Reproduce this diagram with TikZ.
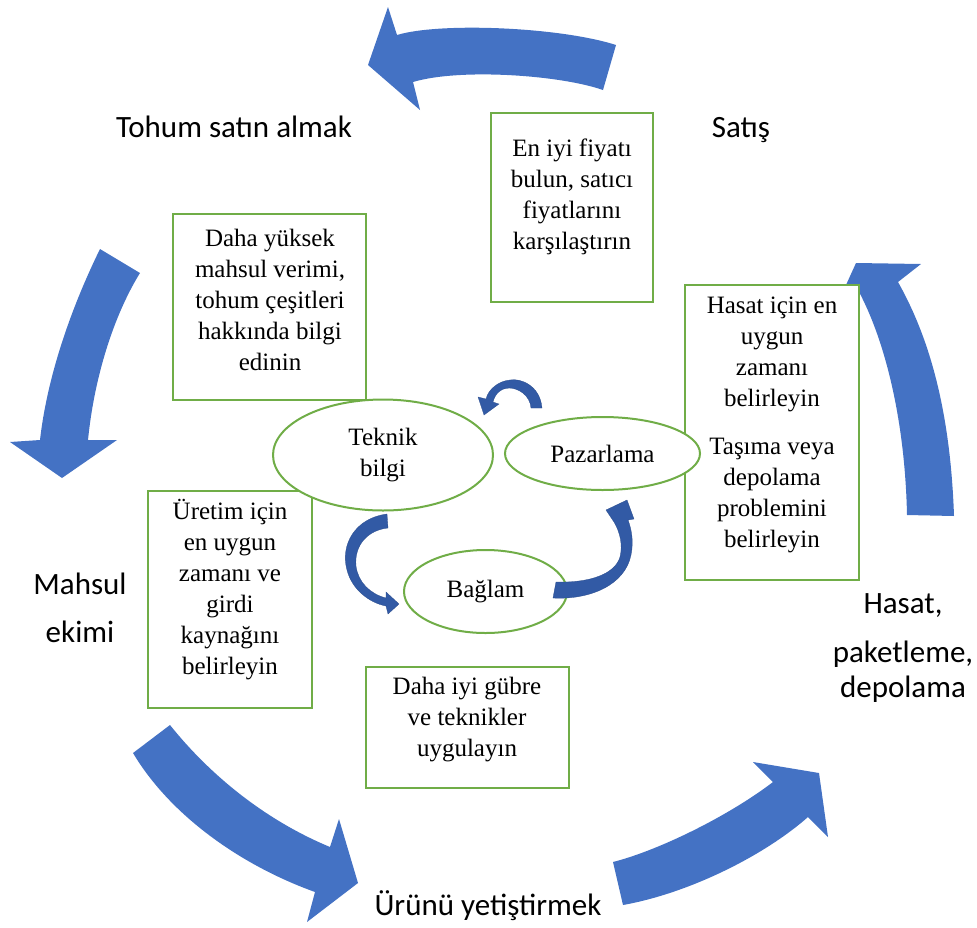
\documentclass[tikz,border=0pt]{standalone}
\usepackage{fontspec}
\setmainfont{Liberation Serif}
\newfontfamily\calfont{Carlito}
\usetikzlibrary{shapes.geometric}
\definecolor{bigblue}{RGB}{68,114,196}
\definecolor{boxgreen}{RGB}{112,173,71}
\definecolor{smallblue}{RGB}{50,90,165}
\begin{document}
\begin{tikzpicture}[x=1pt,y=-1pt,
 bigarrow/.style={fill=bigblue},
 smallarrow/.style={fill=smallblue, draw=smallblue!85!black, line width=0.3pt},
 infobox/.style={draw=boxgreen, line width=2.5pt, fill=white, rectangle, inner sep=0pt},
 topic/.style={draw=boxgreen, line width=2pt, fill=white, ellipse, inner sep=0pt, font=\fontsize{25}{31}\selectfont, align=center},
 boxtext/.style={font=\fontsize{25}{31}\selectfont, align=center, inner sep=0pt},
 stage/.style={font=\calfont\fontsize{31}{37}\selectfont, align=center, inner sep=0pt}]
\useasboundingbox (0,0) rectangle (977,927);

% big cycle arrows
\fill[bigarrow] (616,45) .. controls (560,27) and (440,22) .. (397,35) -- (388,7) -- (368,65) -- (420,110) -- (413,82) .. controls (460,68) and (560,75) .. (603,90) -- cycle;
\fill[bigarrow] (100,249) .. controls (75,300) and (48,370) .. (40,440) -- (10,442) -- (62,478) -- (117,440) -- (88,440) .. controls (95,370) and (117,310) .. (140,273) -- cycle;
\fill[bigarrow] (170,725) .. controls (210,775) and (265,820) .. (330,847) -- (339,819) -- (358,883) -- (307,922) -- (315,892) .. controls (240,865) and (170,815) .. (133,753) -- cycle;
\fill[bigarrow] (613,862) .. controls (660,850) and (730,815) .. (773,782) -- (753,762) -- (819,773) -- (828,837) -- (808,817) .. controls (765,855) and (690,893) .. (623,905) -- cycle;
\fill[bigarrow] (856,263) -- (921,264) -- (898,282) .. controls (925,330) and (950,400) .. (954,516) -- (907,515) .. controls (905,420) and (885,340) .. (858,290) -- (846,285) -- cycle;

% boxes
\node[infobox, minimum width=193pt, minimum height=186pt] (boxA) at (269.5,307) {};
\node[infobox, minimum width=162pt, minimum height=189pt] (boxB) at (572,207.5) {};
\node[infobox, minimum width=174pt, minimum height=295pt] (boxC) at (772,432.5) {};
\node[infobox, minimum width=164pt, minimum height=217pt] (boxD) at (230,599.5) {};
\node[infobox, minimum width=203pt, minimum height=121pt] (boxE) at (467.5,727.5) {};

\node[boxtext] (tA) at (270,300) {Daha yüksek\\mahsul verimi,\\tohum çeşitleri\\hakkında bilgi\\edinin};
\node[boxtext] (tB) at (572,197) {En iyi fiyatı\\bulun, satıcı\\fiyatlarını\\karşılaştırın};
\node[boxtext] (tC) at (772,425) {Hasat için en\\uygun\\zamanı\\belirleyin\\[17pt]Taşıma veya\\depolama\\problemini\\belirleyin};
\node[boxtext] (tD) at (230,590) {Üretim için\\en uygun\\zamanı ve\\girdi\\kaynağını\\belirleyin};
\node[boxtext] (tE) at (467,720) {Daha iyi gübre\\ve teknikler\\uygulayın};

% ellipses
\node[topic, minimum width=220pt, minimum height=111pt] (teknik) at (383,455) {Teknik\\bilgi};
\node[topic, minimum width=195pt, minimum height=73pt] (pazar) at (602.5,453.5) {Pazarlama};
\node[topic, minimum width=163pt, minimum height=83pt] (baglam) at (485.5,591.5) {Bağlam};

% small curved arrows
\filldraw[smallarrow] (542,408) .. controls (540,385) and (520,378) .. (510,380) .. controls (498,381) and (488,390) .. (486,399) -- (478,397) -- (484,415) -- (499,404) -- (493,402) .. controls (495,393) and (502,388) .. (509,388) .. controls (518,388) and (530,395) .. (531,408) -- cycle;
\filldraw[smallarrow] (387,514) .. controls (355,518) and (340,545) .. (347,570) .. controls (352,590) and (370,603) .. (386,606) -- (388,614) -- (399,604) -- (386,592) -- (386,598) .. controls (370,594) and (358,582) .. (356,566) .. controls (354,545) and (368,530) .. (388,528) -- cycle;
\filldraw[smallarrow] (553,598) .. controls (590,600) and (625,585) .. (631,555) .. controls (634,540) and (631,528) .. (628,520) -- (634,519) -- (627,500) -- (606,510) -- (614,522) .. controls (620,532) and (623,545) .. (620,557) .. controls (615,574) and (590,583) .. (556,582) -- cycle;

% stage labels
\node[stage, anchor=base] (tohum) at (234,137) {Tohum satın almak};
\node[stage, anchor=base] (satis) at (741,137) {Satış};
\node[stage, anchor=base] (urunu) at (488,915) {Ürünü yetiştirmek};
\node[stage, font=\calfont\fontsize{31}{48}\selectfont] (mahsul) at (80,608) {Mahsul\\ekimi};
\node[stage, font=\calfont\fontsize{31}{35}\selectfont] (hasat) at (903,648) {Hasat,\\[14pt]paketleme,\\depolama};
\end{tikzpicture}
\end{document}
